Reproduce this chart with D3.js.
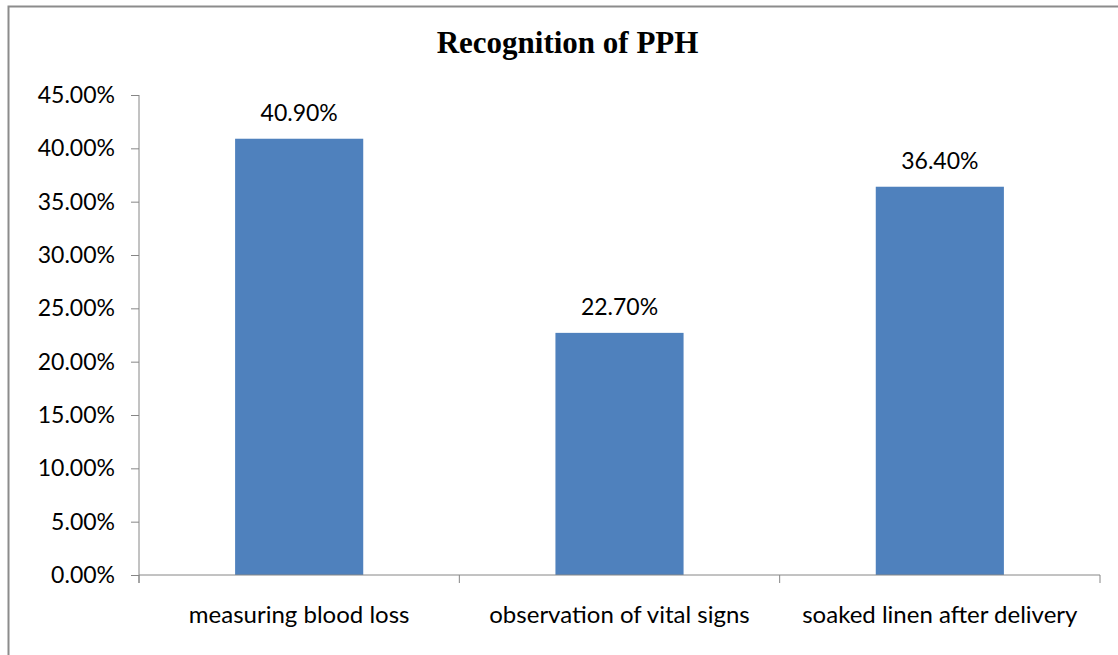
<!DOCTYPE html>
<html><head><meta charset="utf-8">
<script src="https://cdn.jsdelivr.net/npm/d3@7"></script>
<style>html,body{margin:0;padding:0;background:#fff;}svg{display:block;}</style>
</head><body>
<svg id="chart" width="1118" height="655"></svg>
<script>
const categories = ["measuring blood loss", "observation of vital signs", "soaked linen after delivery"];
const values = [40.9, 22.7, 36.4];
const yTicks = [0, 5, 10, 15, 20, 25, 30, 35, 40, 45];
const title = "Recognition of PPH";

const svg = d3.select("#chart");
const x0 = 139, x1 = 1100, y0 = 575, y1 = 95;
const axisColor = "#868686";
const font = "Lato, 'Open Sans', sans-serif";

// outer border
svg.append("rect").attr("x", 8.5).attr("y", 6.5).attr("width", 1130).attr("height", 700)
  .attr("fill", "none").attr("stroke", "#8c8c8c").attr("stroke-width", 2);

const x = d3.scaleBand().domain(categories).range([x0, x1]).paddingInner(0.6).paddingOuter(0.3);
const y = d3.scaleLinear().domain([0, 45]).range([y0, y1]);

// title
svg.append("text").attr("x", 567.5).attr("y", 53).attr("text-anchor", "middle")
  .attr("font-family", "'Liberation Serif', 'Times New Roman', serif").attr("font-weight", "bold")
  .attr("font-size", 31).attr("fill", "#000").text(title);

// bars
svg.append("g").selectAll("rect").data(values).join("rect")
  .attr("x", (d, i) => x(categories[i]))
  .attr("y", d => y(d))
  .attr("width", x.bandwidth())
  .attr("height", d => y(0) - y(d))
  .attr("fill", "#4F81BD");

// y axis
const yAxis = d3.axisLeft(y).tickValues(yTicks).tickSize(8).tickPadding(16)
  .tickFormat(d => d.toFixed(2) + "%");
const gy = svg.append("g").attr("transform", `translate(${x0},0)`).call(yAxis);
gy.select(".domain").remove();
gy.append("line").attr("x1", 0).attr("x2", 0).attr("y1", y1).attr("y2", y0 + 8).attr("stroke", axisColor);
gy.selectAll(".tick line").attr("stroke", axisColor);
gy.selectAll(".tick text").attr("font-family", font).attr("font-size", 23).attr("fill", "#000");

// x axis
const gx = svg.append("g").attr("transform", `translate(0,${y0})`);
gx.append("line").attr("x1", x0).attr("x2", x1).attr("y1", 0).attr("y2", 0).attr("stroke", axisColor);
const bounds = categories.map((c, i) => x0 + i * (x1 - x0) / categories.length).concat([x1]);
gx.selectAll("line.tk").data(bounds).join("line").attr("class", "tk")
  .attr("x1", d => d).attr("x2", d => d).attr("y1", 0).attr("y2", 8).attr("stroke", axisColor);
gx.selectAll("text").data(categories).join("text")
  .attr("x", d => x(d) + x.bandwidth() / 2).attr("y", 48).attr("text-anchor", "middle")
  .attr("font-family", font).attr("font-size", 24).attr("fill", "#000").text(d => d);

// data labels
svg.append("g").selectAll("text").data(values).join("text")
  .attr("x", (d, i) => x(categories[i]) + x.bandwidth() / 2)
  .attr("y", d => y(d) - 18)
  .attr("text-anchor", "middle").attr("font-family", font).attr("font-size", 23).attr("fill", "#000")
  .text(d => d.toFixed(2) + "%");
</script>
</body></html>
